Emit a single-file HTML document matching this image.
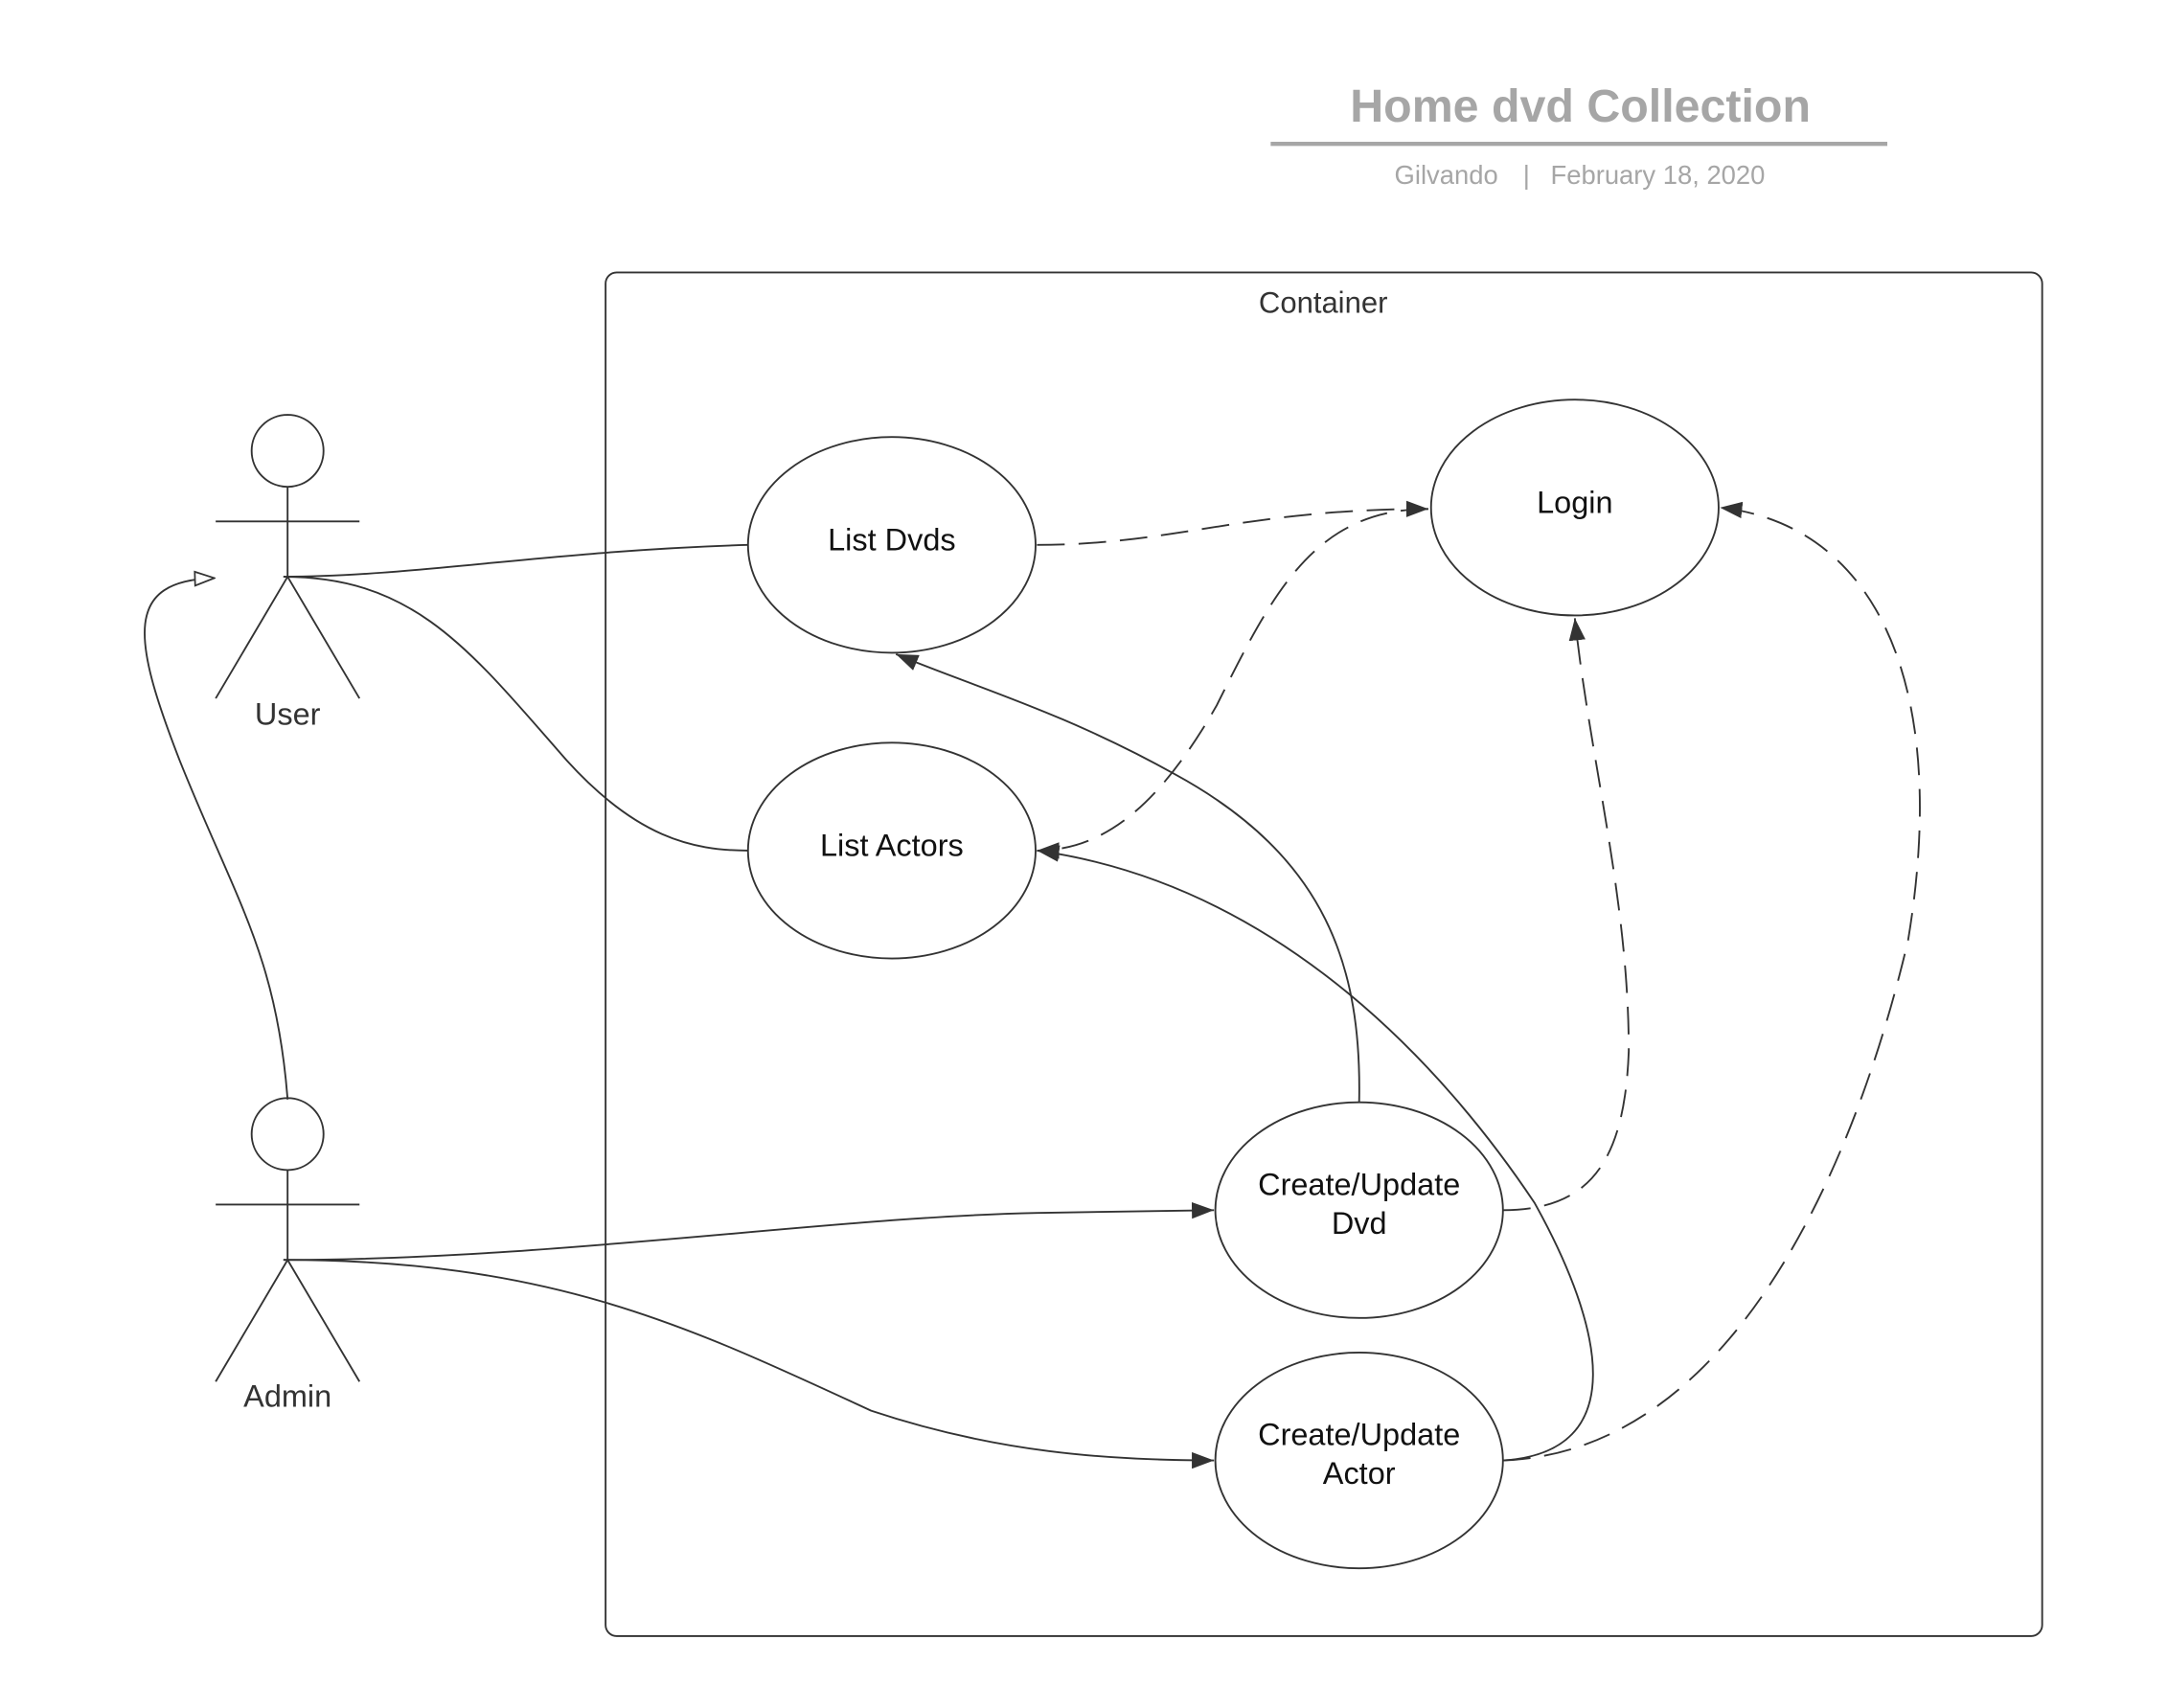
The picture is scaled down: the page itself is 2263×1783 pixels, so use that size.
<!DOCTYPE html>
<html><head><meta charset="utf-8"><style>
html,body{margin:0;padding:0;background:#fff;}
svg{display:block;}
text{font-family:"Liberation Sans",Arial,sans-serif;}
</style></head><body>
<svg width="2263" height="1783" viewBox="0 0 1568 1235" preserveAspectRatio="none" xmlns="http://www.w3.org/2000/svg">
<defs>
<marker id="a" viewBox="0 0 16 12" refX="16" refY="6" markerWidth="16" markerHeight="12" markerUnits="userSpaceOnUse" orient="auto"><path d="M0,0 L16,6 L0,12 z" fill="#333"/></marker>
<marker id="h" viewBox="0 0 16 12" refX="15" refY="6" markerWidth="16" markerHeight="12" markerUnits="userSpaceOnUse" orient="auto"><path d="M1,1 L15,6 L1,11 z" fill="#fff" stroke="#333" stroke-width="1.2"/></marker>
</defs>
<text x="1143" y="88" text-anchor="middle" font-size="33.5" font-weight="bold" fill="#a6a6a6">Home dvd Collection</text>
<line x1="919" y1="104" x2="1365" y2="104" stroke="#a6a6a6" stroke-width="3"/>
<text x="1046" y="133" text-anchor="middle" font-size="19" fill="#a6a6a6">Gilvando</text>
<text x="1104" y="133" text-anchor="middle" font-size="19" fill="#a6a6a6">|</text>
<text x="1199" y="133" text-anchor="middle" font-size="19" fill="#a6a6a6">February 18, 2020</text>
<rect x="438" y="197" width="1039" height="986" rx="8" fill="none" stroke="#333" stroke-width="1.3"/>
<text x="957" y="226" text-anchor="middle" font-size="21.5" fill="#333">Container</text>
<g stroke="#333" stroke-width="1.3" fill="none">
<circle cx="208" cy="326" r="26"/>
<line x1="156" y1="377" x2="260" y2="377"/><line x1="208" y1="352" x2="208" y2="417"/>
<path d="M156 505 L208 417 L260 505"/>
<circle cx="208" cy="820" r="26"/>
<line x1="156" y1="871" x2="260" y2="871"/><line x1="208" y1="846" x2="208" y2="911"/>
<path d="M156 999 L208 911 L260 999"/>
<ellipse cx="645" cy="394" rx="104" ry="78"/>
<ellipse cx="1139" cy="367" rx="104" ry="78"/>
<ellipse cx="645" cy="615" rx="104" ry="78"/>
<ellipse cx="983" cy="875" rx="104" ry="78"/>
<ellipse cx="983" cy="1056" rx="104" ry="78"/>
<path d="M205 417 C300 417 400 398 541 394"/>
<path d="M205 417 C300 417 340 470 410 550 C460 605 500 615 541 615"/>
<path d="M208 795 C200 690 170 650 130 550 C95 460 90 420 155 418" marker-end="url(#h)"/>
<path d="M750 394 C850 394 900 368 1033 368" stroke-dasharray="20 10" marker-end="url(#a)"/>
<path d="M1033 368 C950 368 920 430 880 510 C840 580 800 615 750 615" stroke-dasharray="20 10" marker-end="url(#a)"/>
<path d="M983 797 C985 700 960 620 850 560 C770 515 700 495 648 473" marker-end="url(#a)"/>
<path d="M1087 1056 C1180 1050 1160 960 1110 870 C1050 780 930 640 750 615" marker-end="url(#a)"/>
<path d="M1087 875 C1150 875 1175 840 1178 760 C1178 650 1150 550 1139 447" stroke-dasharray="20 10" marker-end="url(#a)"/>
<path d="M1087 1056 C1250 1050 1340 850 1380 680 C1410 500 1360 380 1244 367" stroke-dasharray="20 10" marker-end="url(#a)"/>
<path d="M205 911 C400 911 600 880 750 877 L878 875" marker-end="url(#a)"/>
<path d="M205 911 C400 911 500 960 630 1020 C720 1050 800 1056 878 1056" marker-end="url(#a)"/>
</g>
<g font-size="22.5" fill="#111" text-anchor="middle">
<text x="208" y="524" fill="#333">User</text>
<text x="208" y="1017" fill="#333">Admin</text>
<text x="645" y="398">List Dvds</text>
<text x="1139" y="371">Login</text>
<text x="645" y="619">List Actors</text>
<text x="983" y="864">Create/Update</text>
<text x="983" y="892">Dvd</text>
<text x="983" y="1045">Create/Update</text>
<text x="983" y="1073">Actor</text>
</g>
</svg>
</body></html>
